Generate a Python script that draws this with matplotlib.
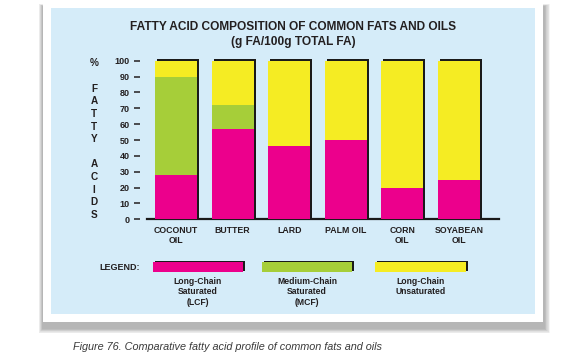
import matplotlib
matplotlib.use('Agg')
import matplotlib.pyplot as plt
from matplotlib.patches import Rectangle
import matplotlib.transforms as mtransforms
import numpy as np

# ---------------- data ----------------
categories = ['COCONUT\nOIL', 'BUTTER', 'LARD', 'PALM OIL', 'CORN\nOIL', 'SOYABEAN\nOIL']
lcf = [28, 57, 46, 50, 20, 25]   # Long-chain saturated
mcf = [62, 15, 0, 0, 0, 0]       # Medium-chain saturated
lcu = [10, 28, 54, 50, 80, 75]   # Long-chain unsaturated
yticks = list(range(0, 101, 10))
legend_labels = ['Long-Chain\nSaturated\n(LCF)', 'Medium-Chain\nSaturated\n(MCF)', 'Long-Chain\nUnsaturated']
title_lines = ['FATTY ACID COMPOSITION OF COMMON FATS AND OILS', '(g FA/100g TOTAL FA)']
ylabel_chars = ['%', '', 'F', 'A', 'T', 'T', 'Y', '', 'A', 'C', 'I', 'D', 'S']
caption = 'Figure 76. Comparative fatty acid profile of common fats and oils'

# ---------------- style ----------------
C_LCF = '#EC008C'
C_MCF = '#A6CE39'
C_LCU = '#F5EC23'
C_BG = '#D5ECF9'
C_TXT = '#231F20'
FONT = 'Liberation Sans'

W, H = 573, 361
fig = plt.figure(figsize=(W / 100, H / 100), dpi=100)
fig.patch.set_facecolor('white')


def fx(x):
    return x / W


def fy(y):
    return 1 - y / H


def frect(x0, y0, x1, y1, **kw):
    r = Rectangle((fx(x0), fy(y1)), fx(x1) - fx(x0), fy(y0) - fy(y1),
                  transform=fig.transFigure, **kw)
    fig.add_artist(r)
    return r


# drop shadow of the frame (soft, stronger at the bottom)
for k in range(8):
    frect(42 - k * 0.5, 6 - k * 0.3, 545 + k * 0.7, 329 + k * 0.6,
          facecolor='#000000', edgecolor='none', alpha=0.04, zorder=0)
# white frame + light blue panel
frect(43, 0, 543, 322, facecolor='white', edgecolor='none', zorder=0.5)
frect(51, 8, 535, 314, facecolor=C_BG, edgecolor='none', zorder=0.6)

# title
fig.text(fx(293), fy(26.5), title_lines[0], ha='center', va='center',
         fontsize=8.6, fontweight='bold', color=C_TXT, family=FONT)
fig.text(fx(293), fy(42.5), title_lines[1], ha='center', va='center',
         fontsize=8.6, fontweight='bold', color=C_TXT, family=FONT)

# vertical stacked y label
y0_lab, dy_lab = 63.3, 12.64
for i, ch in enumerate(ylabel_chars):
    if ch:
        fig.text(fx(94), fy(y0_lab + i * dy_lab), ch, ha='center', va='center',
                 fontsize=7.2, fontweight='bold', color=C_TXT, family=FONT)

# ---------------- axes ----------------
ax_l, ax_r = 147, 499
ax = fig.add_axes([fx(ax_l), fy(219.3), fx(ax_r) - fx(ax_l), fy(60.7) - fy(219.3)])
ax.set_facecolor('none')
ax.set_zorder(2)
x = np.arange(len(categories))
bw = 0.742
totals = [a + b + c for a, b, c in zip(lcf, mcf, lcu)]
mcf_bottom = list(lcf)
lcu_bottom = [a + b for a, b in zip(lcf, mcf)]

shadow_tr = ax.transData + mtransforms.ScaledTranslation(0.02, 0.02, fig.dpi_scale_trans)
ax.bar(x, [t + 1.3 for t in totals], bw, bottom=-1.3, color='#1a1a1a',
       transform=shadow_tr, zorder=1, clip_on=False)
ax.axhline(0, color='#1a1a1a', lw=1.6, zorder=1.5, clip_on=False)
ax.bar(x, lcf, bw, color=C_LCF, zorder=2, clip_on=False)
ax.bar(x, mcf, bw, bottom=mcf_bottom, color=C_MCF, zorder=2, clip_on=False)
ax.bar(x, lcu, bw, bottom=lcu_bottom, color=C_LCU, zorder=2, clip_on=False)

ax.set_xlim(-0.512, 5.707)
ax.set_ylim(0, 100)
for s in ['top', 'right', 'bottom']:
    ax.spines[s].set_visible(False)
ax.spines['left'].set_position(('outward', 5))
ax.spines['left'].set_color('none')
ax.set_yticks(yticks)
ax.set_yticklabels([str(v) for v in yticks])
ax.tick_params(axis='y', length=4, width=1.1, color=C_TXT, pad=3.6,
               labelsize=6.5, labelcolor=C_TXT)
ax.set_xticks(x)
ax.set_xticklabels(categories, linespacing=1.1)
ax.tick_params(axis='x', length=0, pad=5, labelsize=6.3, labelcolor=C_TXT)
for lab in ax.get_yticklabels() + ax.get_xticklabels():
    lab.set_fontweight('bold')
    lab.set_family(FONT)

# ---------------- legend ----------------
fig.text(fx(140), fy(267), 'LEGEND:', ha='right', va='center', fontsize=6.5,
         fontweight='bold', color=C_TXT, family=FONT)
leg_boxes = [(153, 243), (262, 352), (375, 466)]
for (lx0, lx1), col, lab in zip(leg_boxes, [C_LCF, C_MCF, C_LCU], legend_labels):
    frect(lx0 + 1.5, 260.5, lx1 + 1.5, 270.5, facecolor='#1a1a1a', edgecolor='none', zorder=3)
    frect(lx0, 262, lx1, 272, facecolor=col, edgecolor='none', zorder=3.1)
    fig.text(fx((lx0 + lx1) / 2), fy(276.5), lab, ha='center', va='top', fontsize=6.2,
             fontweight='bold', color=C_TXT, family=FONT, linespacing=1.25)

# caption
fig.text(fx(73), fy(347), caption, ha='left', va='center', fontsize=7.8, style='italic',
         color='#3a3a3a', family=FONT)

fig.savefig('out.png', dpi=100, facecolor='white')
